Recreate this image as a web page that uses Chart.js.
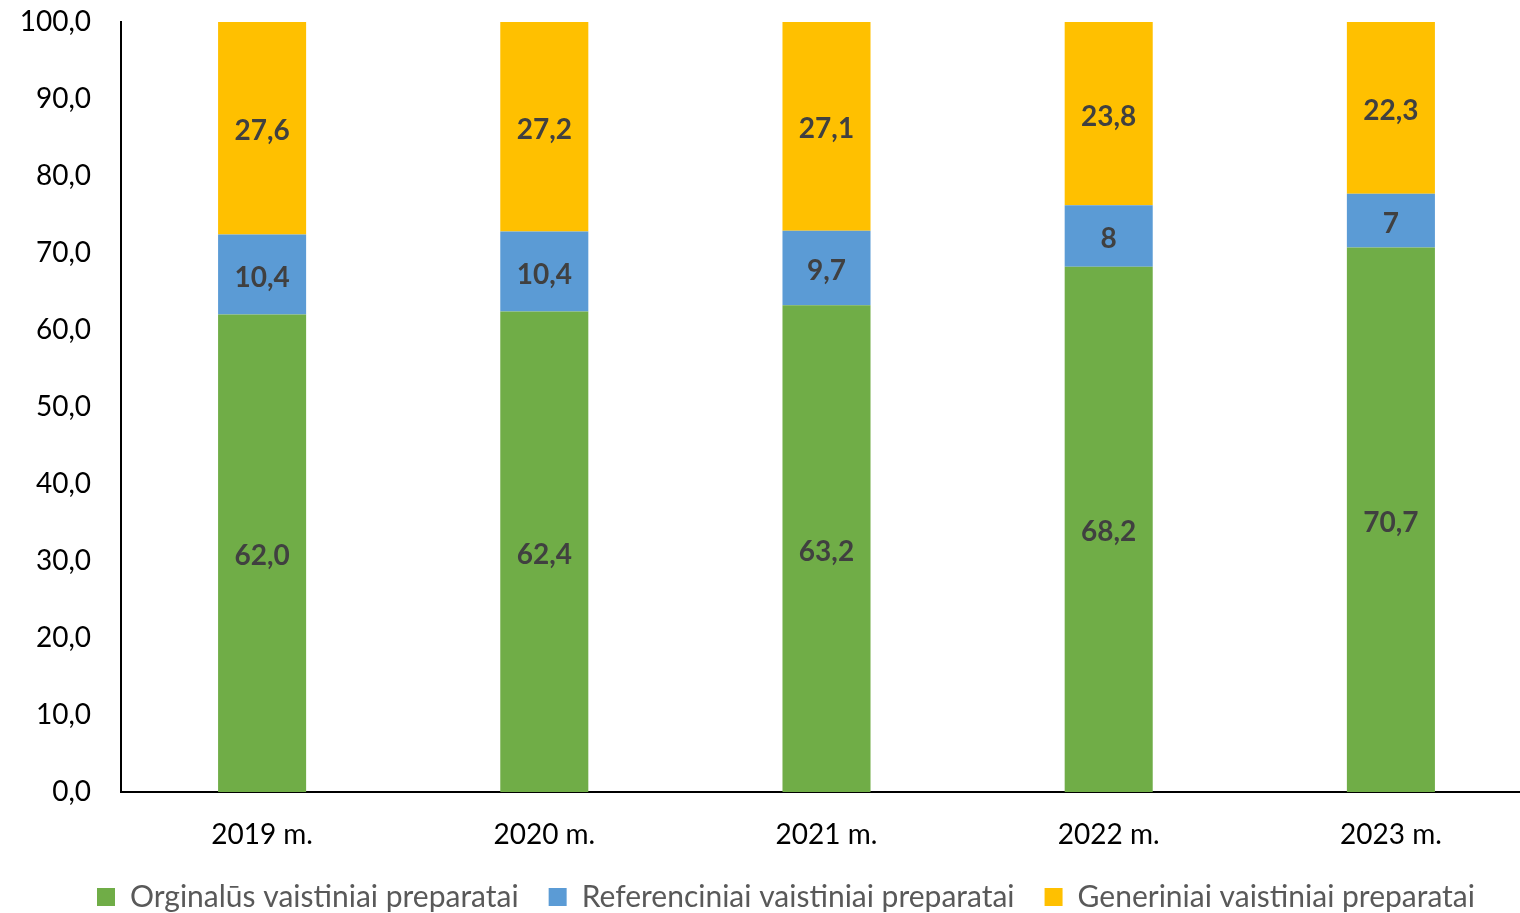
<!DOCTYPE html>
<html>
<head>
<meta charset="utf-8">
<script src="https://cdn.jsdelivr.net/npm/chart.js@4"></script>
<style>
  html, body { margin: 0; padding: 0; background: #fff; overflow: hidden; }
  #wrap { width: 1532px; height: 913px; }
</style>
</head>
<body>
<div id="wrap"><canvas id="shareChart"></canvas></div>
<script>
    var FONT = "Lato, 'Open Sans', sans-serif";

    var years = ['2019 m.', '2020 m.', '2021 m.', '2022 m.', '2023 m.'];
    var originalValues = [62.0, 62.4, 63.2, 68.2, 70.7];
    var referenceValues = [10.4, 10.4, 9.7, 8, 7];
    var genericValues = [27.6, 27.2, 27.1, 23.8, 22.3];
    var seriesNames = [
        'Orginalūs vaistiniai preparatai',
        'Referenciniai vaistiniai preparatai',
        'Generiniai vaistiniai preparatai'
    ];

    function comma(v, fixed) {
        var s = fixed ? v.toFixed(1) : String(v);
        return s.replace('.', ',');
    }

    // labels in the middle of each bar segment
    var segmentLabels = {
        id: 'segmentLabels',
        afterDatasetsDraw: function (chart) {
            var ctx = chart.ctx;
            ctx.save();
            ctx.font = 'bold 28px ' + FONT;
            ctx.fillStyle = '#404040';
            ctx.textAlign = 'center';
            ctx.textBaseline = 'middle';
            chart.data.datasets.forEach(function (ds, di) {
                var meta = chart.getDatasetMeta(di);
                meta.data.forEach(function (bar, i) {
                    var y = (bar.y + bar.base) / 2 + 3;
                    ctx.fillText(comma(ds.data[i], ds.fixedLabel), bar.x, y);
                });
            });
            ctx.restore();
        }
    };

    // legend sits a little right of the canvas centre in the original
    var nudgeLegend = {
        id: 'nudgeLegend',
        afterLayout: function (chart) {
            if (!chart.legend) return;
            chart.legend.left += 20;
            chart.legend.right += 20;
        }
    };

    function makeSet(label, data, color, fixed) {
        return {
            label: label,
            data: data,
            backgroundColor: color,
            borderWidth: 0,
            barPercentage: 1,
            categoryPercentage: 0.312,
            fixedLabel: fixed
        };
    }

    new Chart(document.getElementById('shareChart'), {
        type: 'bar',
        data: {
            labels: years,
            datasets: [
                makeSet(seriesNames[0], originalValues, '#70AD47', true),
                makeSet(seriesNames[1], referenceValues, '#5B9BD5', false),
                makeSet(seriesNames[2], genericValues, '#FFC000', false)
            ]
        },
        options: {
            responsive: true,
            maintainAspectRatio: false,
            animation: false,
            layout: { padding: { top: 0, right: 0, left: 0, bottom: -9 } },
            plugins: {
                legend: {
                    position: 'bottom',
                    labels: {
                        boxWidth: 18,
                        boxHeight: 18,
                        padding: 30,
                        color: '#595959',
                        font: { family: FONT, size: 30 }
                    }
                },
                tooltip: { enabled: false }
            },
            scales: {
                x: {
                    stacked: true,
                    grid: { display: false, drawTicks: false },
                    border: { display: true, color: '#000', width: 2 },
                    ticks: {
                        color: '#000',
                        padding: 26,
                        font: { family: FONT, size: 28 }
                    },
                    afterFit: function (s) { s.height = 60; }
                },
                y: {
                    stacked: true,
                    min: 0,
                    max: 100,
                    grid: { display: false, drawTicks: false },
                    border: { display: true, color: '#000', width: 2 },
                    ticks: {
                        stepSize: 10,
                        color: '#000',
                        padding: 30,
                        font: { family: FONT, size: 28 },
                        callback: function (v) { return comma(v, true); }
                    },
                    afterFit: function (s) {
                        s.width = 121;
                        s.paddingTop = 22;
                        s.paddingBottom = 0;
                    }
                }
            }
        },
        plugins: [segmentLabels, nudgeLegend]
    });
</script>
</body>
</html>
